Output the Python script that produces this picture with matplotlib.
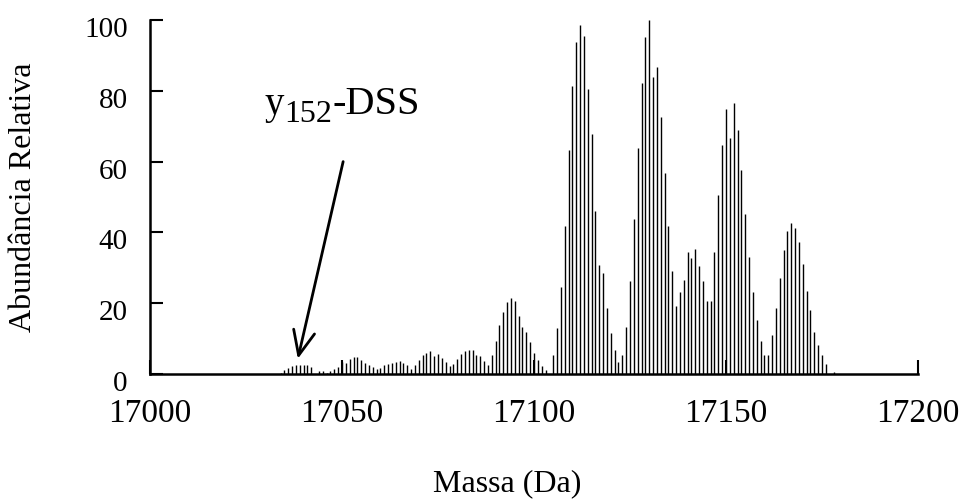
import matplotlib
matplotlib.use("Agg")
import matplotlib.pyplot as plt
import matplotlib.transforms as mtransforms
import numpy as np

plt.rcParams['font.family'] = ['Liberation Serif', 'DejaVu Serif']

masses = [
    17034, 17035, 17036, 17037, 17038, 17039, 17040, 17041, 17042, 17043, 17044, 17045, 17046, 17047, 17048,
    17049, 17050, 17051, 17052, 17053, 17054, 17055, 17056, 17057, 17058, 17059, 17060, 17061, 17062, 17063,
    17064, 17065, 17066, 17067, 17068, 17069, 17070, 17071, 17072, 17073, 17074, 17075, 17076, 17077, 17078,
    17079, 17080, 17081, 17082, 17083, 17084, 17085, 17086, 17087, 17088, 17089, 17090, 17091, 17092, 17093,
    17094, 17095, 17096, 17097, 17098, 17099, 17100, 17101, 17102, 17103, 17104, 17105, 17106, 17107, 17108,
    17109, 17110, 17111, 17112, 17113, 17114, 17115, 17116, 17117, 17118, 17119, 17120, 17121, 17122, 17123,
    17124, 17125, 17126, 17127, 17128, 17129, 17130, 17131, 17132, 17133, 17134, 17135, 17136, 17137, 17138,
    17139, 17140, 17141, 17142, 17143, 17144, 17145, 17146, 17147, 17148, 17149, 17150, 17151, 17152, 17153,
    17154, 17155, 17156, 17157, 17158, 17159, 17160, 17161, 17162, 17163, 17164, 17165, 17166, 17167, 17168,
    17169, 17170, 17171, 17172, 17173, 17174, 17175, 17176, 17177, 17178,
]
abundance = [
    0.4, 1.1, 1.7, 2.3, 2.5, 2.6, 2.6, 2.5, 2.1, 0.0, 0.9, 0.75, 0.4, 0.75, 1.3,
    2.1, 3.5, 3.0, 4.2, 4.9, 4.7, 4.0, 3.2, 2.6, 1.9, 1.3, 1.7, 2.5, 2.9, 3.2,
    3.3, 3.6, 3.2, 2.6, 1.5, 2.6, 4.0, 5.3, 5.8, 6.6, 5.1, 5.7, 4.5, 3.4, 2.3,
    2.8, 4.3, 5.7, 6.6, 6.9, 6.8, 5.3, 5.1, 3.7, 2.6, 5.5, 9.4, 13.8, 17.5, 20.4,
    21.5, 20.6, 16.4, 13.4, 12.0, 9.0, 6.0, 4.0, 2.4, 1.2, 0.0, 5.5, 13.0, 24.7, 41.9,
    63.3, 81.3, 93.9, 98.7, 95.5, 80.4, 67.7, 46.0, 30.9, 28.5, 18.7, 11.6, 6.8, 3.5, 5.5,
    13.3, 26.3, 43.9, 63.9, 82.2, 95.1, 100.0, 83.8, 86.7, 72.6, 56.8, 41.9, 29.1, 19.3, 23.2,
    26.6, 34.6, 32.8, 35.2, 30.6, 26.3, 20.6, 20.6, 34.5, 50.5, 64.8, 75.0, 66.8, 76.6, 68.9,
    57.6, 45.2, 33.1, 23.3, 15.3, 9.2, 5.4, 5.4, 10.9, 18.6, 27.1, 35.0, 40.4, 42.6, 41.2,
    37.2, 31.1, 23.5, 18.0, 12.0, 8.3, 5.3, 2.8, 0.0, 0.6,
]
x_ticks = [17000, 17050, 17100, 17150, 17200]
y_ticks = [0, 20, 40, 60, 80, 100]

fig = plt.figure(figsize=(9.69, 4.99), dpi=100)
ax = fig.add_axes([150/969, 125/499, 768/969, 354/499])

ax.vlines(masses, 0, abundance, colors='black', linewidth=1.0)

ax.set_xlim(17000, 17200)
ax.set_ylim(0, 100)
ax.set_xticks(x_ticks)
ax.set_yticks(y_ticks)

for s in ['top', 'right']:
    ax.spines[s].set_visible(False)
for s in ['left', 'bottom']:
    ax.spines[s].set_linewidth(1.8)

ax.tick_params(axis='y', direction='in', length=9, width=1.5, pad=16, labelsize=21)
ax.tick_params(axis='x', direction='in', length=10, width=1.5, pad=18, labelsize=24)
for t in ax.get_xticklines():
    t.set_clip_on(False)

# y tick labels sit a little below their ticks in the reference
shift = mtransforms.ScaledTranslation(0, -7/100, fig.dpi_scale_trans)
for lab in ax.get_yticklabels():
    lab.set_transform(lab.get_transform() + shift)

ax.set_xlabel('Massa (Da)', fontsize=23)
ax.xaxis.set_label_coords((507-150)/768, -0.27)
ax.set_ylabel('Abundância Relativa', fontsize=23)
ax.yaxis.set_label_coords(-0.146, 0.5)

# annotation label "y152-DSS" built from pieces (subscript)
renderer = fig.canvas.get_renderer()
x0, y0 = 17029.9, 73.4
base = ax.transData.transform((x0, y0))
t1 = ax.text(x0, y0, 'y', fontsize=28, ha='left', va='baseline')
bb1 = t1.get_window_extent(renderer)
t2 = ax.text(bb1.x1, base[1] - 8, '152', fontsize=23, ha='left', va='baseline',
             transform=mtransforms.IdentityTransform())
bb2 = t2.get_window_extent(renderer)
ax.text(bb2.x1, base[1], '-DSS', fontsize=29, ha='left', va='baseline',
        transform=mtransforms.IdentityTransform())

ax.annotate('', xy=(17038.5, 4.3), xytext=(17050.3, 60.0),
            arrowprops=dict(arrowstyle='->,head_length=0.8,head_width=0.35',
                            lw=2.0, color='black', mutation_scale=22,
                            shrinkA=0, shrinkB=0))

fig.savefig('out.png', dpi=100)
